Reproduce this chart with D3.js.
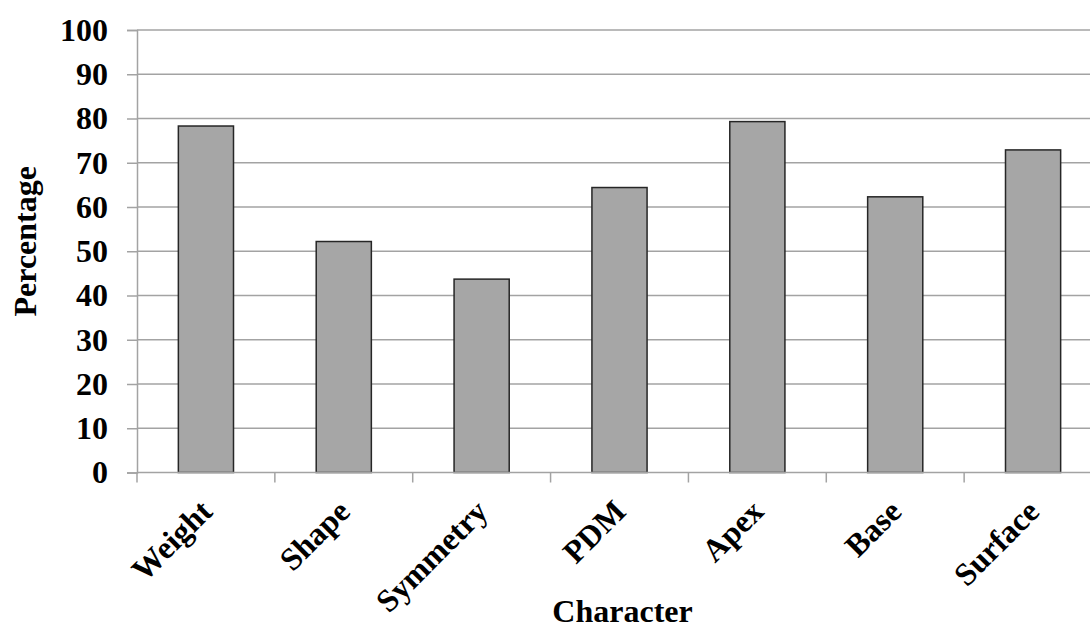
<!DOCTYPE html>
<html>
<head>
<meta charset="utf-8">
<script src="https://cdn.jsdelivr.net/npm/d3@7"></script>
<style>
  html, body { margin: 0; padding: 0; background: #fff; overflow: hidden; }
  text { font-family: "Liberation Serif", "Times New Roman", serif; font-weight: bold; fill: #000; }
</style>
</head>
<body>
<svg id="chart" width="1090" height="628"></svg>
<script>
const categories = ["Weight", "Shape", "Symmetry", "PDM", "Apex", "Base", "Surface"];
const values = [78.3, 52.2, 43.7, 64.4, 79.3, 62.3, 72.9];
const yTicks = [0, 10, 20, 30, 40, 50, 60, 70, 80, 90, 100];
const xTitle = "Character";
const yTitle = "Percentage";

(function () {
const svg = d3.select("#chart");
const mLeft = 137, mRight = 1102, mTop = 30, mBottom = 472.5;
const fs = "32px";

const x = d3.scaleBand().domain(categories).range([mLeft, mRight]).padding(0);
const y = d3.scaleLinear().domain([0, 100]).range([mBottom, mTop]);

const gridColor = "#a3a3a3";

// gridlines
svg.append("g").selectAll("line").data(yTicks.filter(d => d > 0)).join("line")
  .attr("x1", mLeft).attr("x2", mRight)
  .attr("y1", d => y(d)).attr("y2", d => y(d))
  .attr("stroke", gridColor).attr("stroke-width", 1.5);

// y axis
const yAxis = svg.append("g").attr("transform", `translate(${mLeft},0)`)
  .call(d3.axisLeft(y).tickValues(yTicks).tickSize(10).tickPadding(19));
yAxis.select(".domain").attr("stroke", gridColor).attr("stroke-width", 1.5);
yAxis.selectAll(".tick line").attr("stroke", gridColor).attr("stroke-width", 1.5);
yAxis.selectAll(".tick text").style("font-size", fs).style("font-family", "Liberation Serif").style("font-weight", "bold").attr("fill", "#000");

// bars
const barW = x.bandwidth() * 0.4;
svg.append("g").selectAll("rect").data(values).join("rect")
  .attr("x", (d, i) => x(categories[i]) + (x.bandwidth() - barW) / 2)
  .attr("y", d => y(d))
  .attr("width", barW)
  .attr("height", d => y(0) - y(d))
  .attr("fill", "#a6a6a6")
  .attr("stroke", "#262626")
  .attr("stroke-width", 1.5);

// x axis line and ticks at band boundaries
const xg = svg.append("g");
xg.append("line").attr("x1", mLeft).attr("x2", mRight).attr("y1", y(0)).attr("y2", y(0))
  .attr("stroke", gridColor).attr("stroke-width", 1.5);
xg.selectAll("line.tk").data(categories).join("line").attr("class", "tk")
  .attr("x1", d => x(d)).attr("x2", d => x(d))
  .attr("y1", y(0)).attr("y2", y(0) + 10)
  .attr("stroke", gridColor).attr("stroke-width", 1.5);

// category labels
xg.selectAll("text").data(categories).join("text")
  .attr("transform", d => `translate(${x(d) + x.bandwidth() / 2 + 8},${y(0) + 41}) rotate(-45)`)
  .attr("text-anchor", "end")
  .style("font-size", fs)
  .text(d => d);

// axis titles
svg.append("text")
  .attr("x", (mLeft + mRight) / 2 + 3).attr("y", 622)
  .attr("text-anchor", "middle").style("font-size", fs)
  .text(xTitle);

svg.append("text")
  .attr("transform", `translate(36,${(mTop + mBottom) / 2 - 10}) rotate(-90)`)
  .attr("text-anchor", "middle").style("font-size", fs)
  .text(yTitle);
})();
</script>
</body>
</html>
